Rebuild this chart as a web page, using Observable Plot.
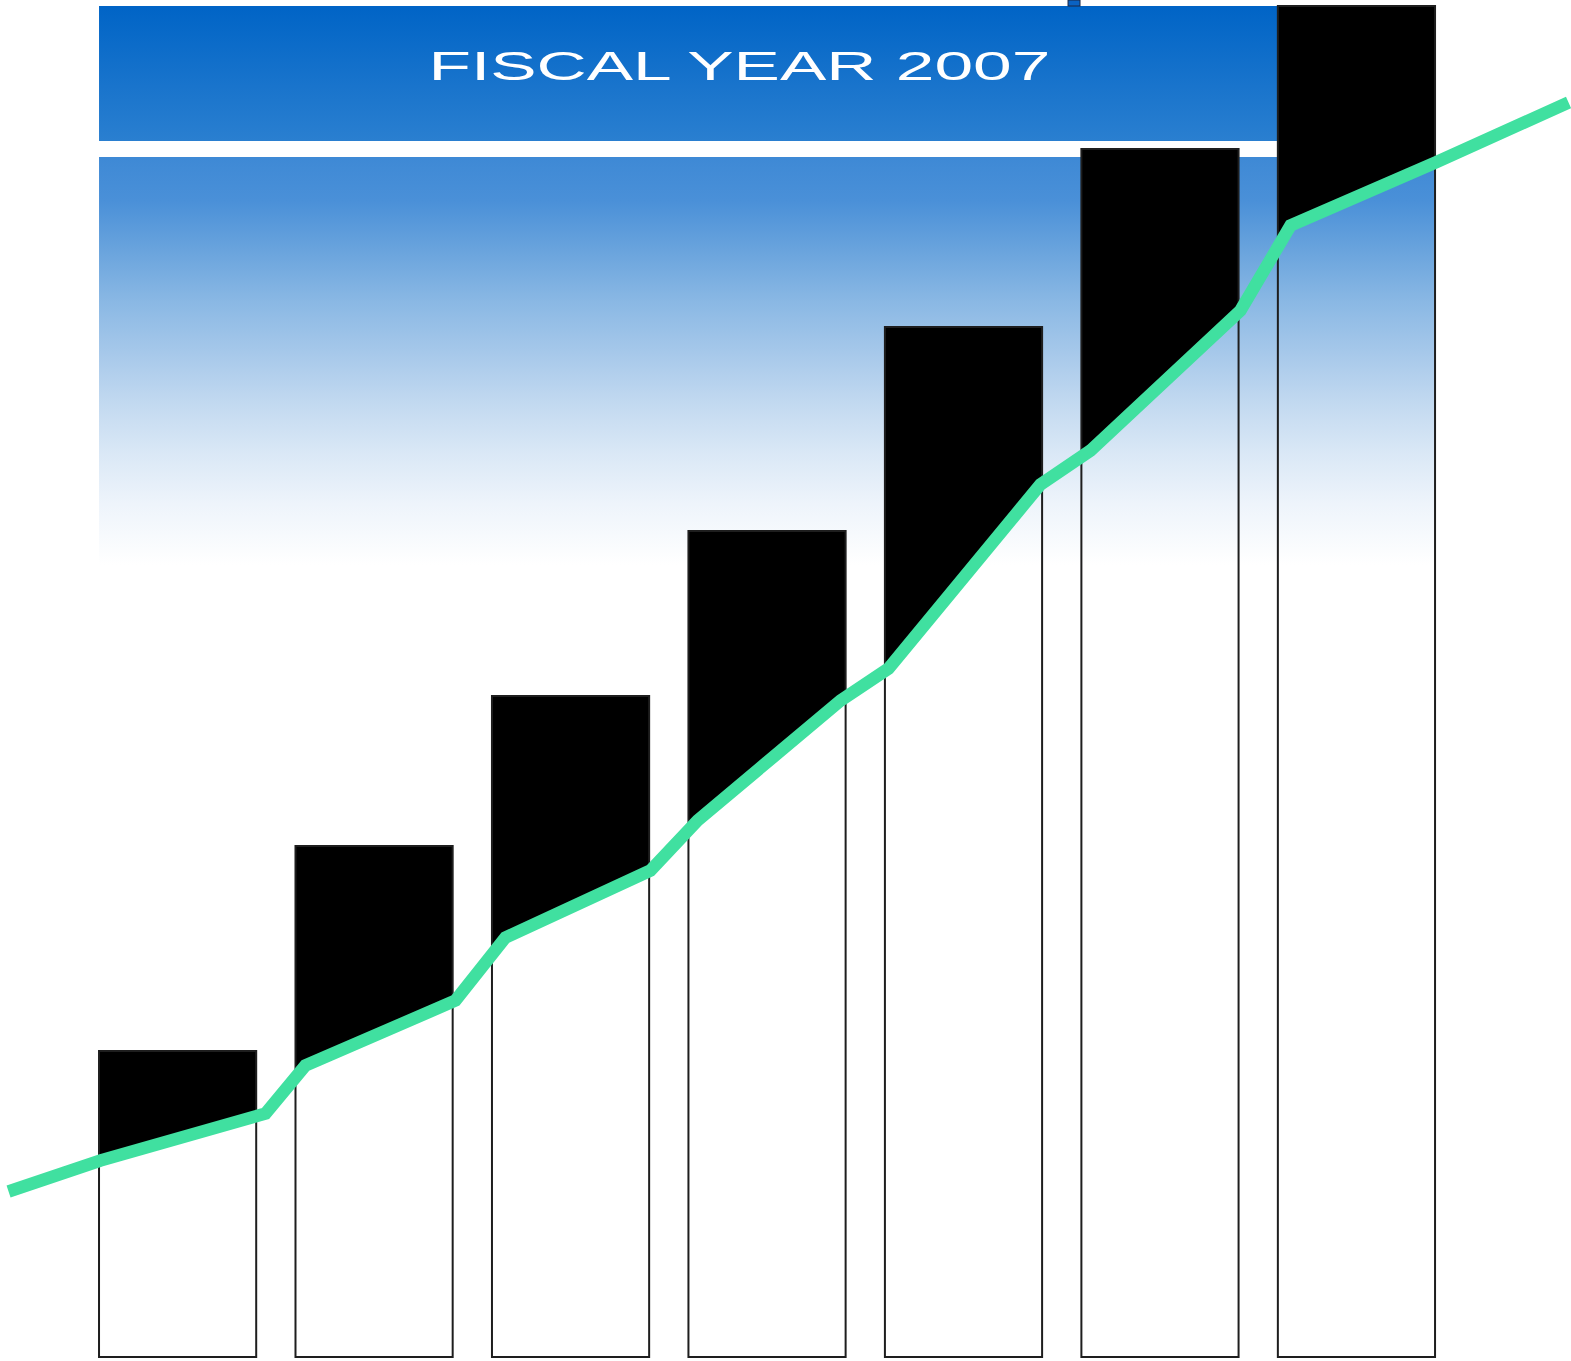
<!DOCTYPE html>
<html><head><meta charset="utf-8">
<script src="https://cdn.jsdelivr.net/npm/d3@7"></script>
<script src="https://cdn.jsdelivr.net/npm/@observablehq/plot@0.6"></script>
<style>html,body{margin:0;padding:0;background:#fff;} #chart svg{display:block;}</style>
</head><body><div id="chart"></div>
<script>
// ---- data ----
const title = "FISCAL YEAR 2007";
const barSlots = [1, 2, 3, 4, 5, 6, 7];
const barValues = [30.6, 51.1, 66.1, 82.6, 103.0, 120.8, 135.1];
const trendPos = [0.137, 0.605, 1.445, 1.648, 2.412, 2.666, 3.404, 3.644, 4.372, 4.616, 5.389, 5.644, 6.407, 6.662, 7.400, 8.077];
const trendValues = [16.6, 19.7, 24.4, 29.2, 35.7, 42.0, 48.7, 53.7, 65.7, 68.9, 87.3, 90.7, 104.7, 113.2, 119.5, 125.5];

const bars = barSlots.map((s, i) => ({slot: s, value: barValues[i]}));
const trend = trendPos.map((p, i) => ({pos: p, value: trendValues[i]}));

const W = 1571, H = 1361;
const half = 0.4;
const first = barSlots[0] - half, last = barSlots[barSlots.length - 1] + half;
const yMax = 135.7;
const bandTop = 135.1, bandBottom = 121.6, fadeTop = 120.0, fadeBottom = 79.2;

const chart = Plot.plot({
  width: W, height: H, margin: 0,
  x: {domain: [0.096, 8.092], axis: null},
  y: {domain: [-0.4, yMax], axis: null},
  style: {background: "#fff"},
  marks: [
    Plot.rect([0], {x1: first, x2: barSlots[6] - half, y1: bandBottom, y2: bandTop, fill: "url(#gTitle)"}),
    Plot.rect([0], {x1: first, x2: last, y1: fadeBottom, y2: fadeTop, fill: "url(#gFade)"}),
    Plot.rect([0], {x1: 5.532, x2: 5.593, y1: bandTop, y2: yMax, fill: "#0a62c2", stroke: "#1b2744", strokeWidth: 1}),
    Plot.areaY(trend, {x: "pos", y1: "value", y2: 150, fill: "#000"}),
    Plot.rect(bars, {x1: d => d.slot - half, x2: d => d.slot + half, y1: 0, y2: "value", fill: "black"}),
    Plot.rect(bars, {x1: d => d.slot - half, x2: d => d.slot + half, y1: 0, y2: "value", fill: "none", stroke: "#1e1e1e", strokeWidth: 2}),
    Plot.line(trend, {x: "pos", y: "value", stroke: "#40e0a0", strokeWidth: 12.5, strokeLinecap: "butt", strokeLinejoin: "miter", strokeMiterlimit: 4}),
    Plot.text([title], {x: 3.857, y: 129.1, text: d => d, fill: "#fff", fontSize: 41, fontFamily: "Liberation Sans, Arial, sans-serif", textAnchor: "middle"})
  ]
});

const ns = "http://www.w3.org/2000/svg";
const defs = document.createElementNS(ns, "defs");
function grad(id, stops) {
  const g = document.createElementNS(ns, "linearGradient");
  g.setAttribute("id", id);
  g.setAttribute("x1", "0"); g.setAttribute("y1", "0");
  g.setAttribute("x2", "0"); g.setAttribute("y2", "1");
  for (const [o, c] of stops) {
    const s = document.createElementNS(ns, "stop");
    s.setAttribute("offset", o);
    s.setAttribute("stop-color", c);
    g.appendChild(s);
  }
  defs.appendChild(g);
}
grad("gTitle", [[0, "#0064c6"], [1, "#2a7fd0"]]);
grad("gFade", [[0, "#3e89d5"], [0.107, "#4a90d8"], [0.231, "#6aa4dd"], [0.355, "#8ab8e4"], [0.479, "#a6c8ea"], [0.603, "#c2d9f0"], [0.727, "#dae8f6"], [0.851, "#eef4fb"], [1, "#ffffff"]]);
chart.insertBefore(defs, chart.firstChild);

const areaG = chart.querySelector('g[aria-label="area"]');
const areaPath = areaG.querySelector("path");
const clip = document.createElementNS(ns, "clipPath");
clip.setAttribute("id", "aboveTrend");
const cp = document.createElementNS(ns, "path");
cp.setAttribute("d", areaPath.getAttribute("d"));
if (areaG.getAttribute("transform")) cp.setAttribute("transform", areaG.getAttribute("transform"));
clip.appendChild(cp);
defs.appendChild(clip);
areaG.remove();
const blackG = chart.querySelector('g[aria-label="rect"][fill="black"]');
if (blackG) {
  blackG.removeAttribute("transform");
  blackG.setAttribute("clip-path", "url(#aboveTrend)");
}

const t = chart.querySelector('g[aria-label="text"] text');
if (t) { t.setAttribute("textLength", "622"); t.setAttribute("lengthAdjust", "spacingAndGlyphs"); }

document.getElementById("chart").appendChild(chart);
</script>
</body></html>
